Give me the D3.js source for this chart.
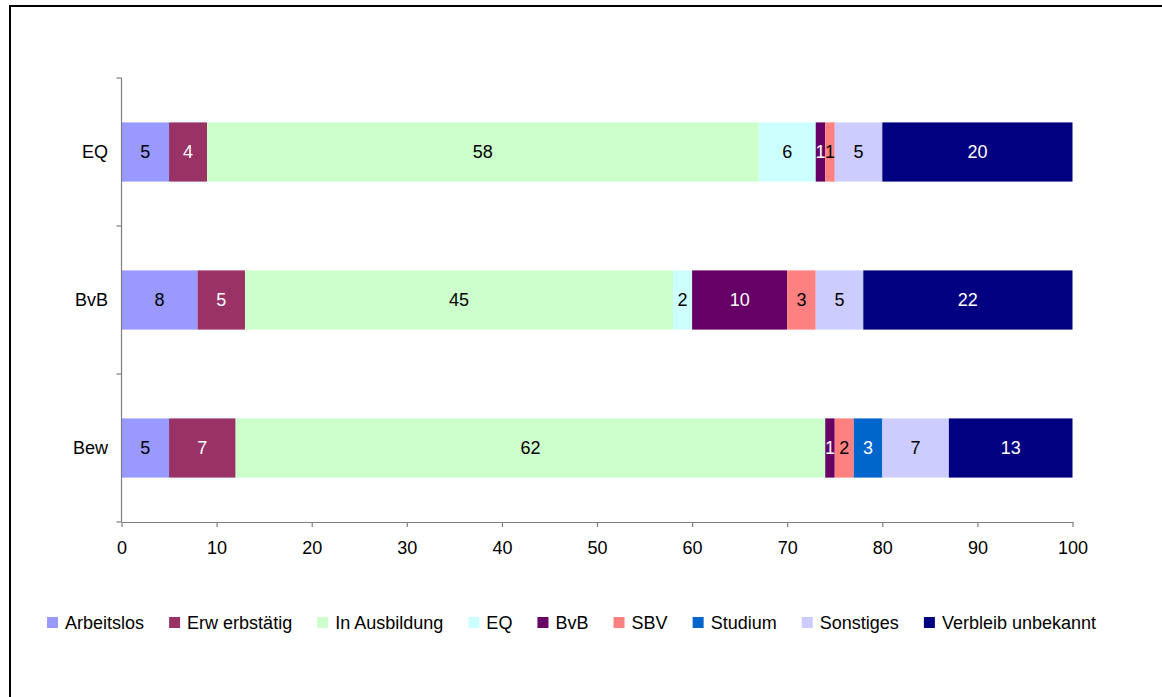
<!DOCTYPE html>
<html>
<head>
<meta charset="utf-8">
<script src="https://cdn.jsdelivr.net/npm/d3@7"></script>
<style>
  html, body { margin: 0; padding: 0; background: #fff; }
  svg { display: block; font-family: "Liberation Sans", Arial, sans-serif; }
</style>
</head>
<body>
<svg id="chart" width="1162" height="697"></svg>
<script>
const categories = ["EQ", "BvB", "Bew"];
const seriesNames = ["Arbeitslos", "Erw erbstätig", "In Ausbildung", "EQ", "BvB", "SBV", "Studium", "Sonstiges", "Verbleib unbekannt"];
const seriesColors = ["#9999FF", "#993366", "#CCFFCC", "#CCFFFF", "#660066", "#FF8080", "#0066CC", "#CCCCFF", "#000080"];
const labelColors = ["#000", "#fff", "#000", "#000", "#fff", "#000", "#fff", "#000", "#fff"];
// values per category, in series order
const valuesEQ  = [5, 4, 58, 6, 1, 1, 0, 5, 20];
const valuesBvB = [8, 5, 45, 2, 10, 3, 0, 5, 22];
const valuesBew = [5, 7, 62, 0, 1, 2, 3, 7, 13];
const xTicks = [0, 10, 20, 30, 40, 50, 60, 70, 80, 90, 100];

const valuesByCat = { EQ: valuesEQ, BvB: valuesBvB, Bew: valuesBew };
const FS = 18;

const svg = d3.select("#chart");

// outer frame (only top and left visible)
svg.append("rect").attr("x", 10).attr("y", 6).attr("width", 1200).attr("height", 720)
  .attr("fill", "none").attr("stroke", "#000").attr("stroke-width", 2);

const x = d3.scaleLinear().domain([0, 100]).range([121.5, 1072.5]);
const y = d3.scaleBand().domain(categories).range([78, 522]).paddingInner(0.6).paddingOuter(0.3);

const rows = categories.map(c => {
  let acc = 0;
  return valuesByCat[c].map((v, i) => {
    const d = { cat: c, i, v, x0: acc, x1: acc + v };
    acc += v;
    return d;
  });
});

const barG = svg.append("g");
rows.forEach(row => {
  const g = barG.append("g");
  g.selectAll("rect").data(row.filter(d => d.v > 0)).join("rect")
    .attr("x", d => x(d.x0))
    .attr("y", d => y(d.cat))
    .attr("width", d => x(d.x1) - x(d.x0))
    .attr("height", y.bandwidth())
    .attr("fill", d => seriesColors[d.i]);
  g.selectAll("text").data(row.filter(d => d.v > 0)).join("text")
    .attr("x", d => (x(d.x0) + x(d.x1)) / 2)
    .attr("y", d => y(d.cat) + y.bandwidth() / 2)
    .attr("dy", "0.36em")
    .attr("text-anchor", "middle")
    .attr("font-size", FS)
    .attr("fill", d => labelColors[d.i])
    .text(d => d.v);
});

const axisColor = "#7f7f7f";

// Y axis
const yAxisG = svg.append("g");
yAxisG.append("line").attr("x1", x(0)).attr("x2", x(0)).attr("y1", 78).attr("y2", 522)
  .attr("stroke", axisColor).attr("stroke-width", 1.2);
const yBounds = categories.map(c => y(c) - y.step() * y.paddingInner() / 2).concat([522]);
yAxisG.selectAll("line.tick").data(yBounds).join("line").attr("class", "tick")
  .attr("x1", x(0) - 5).attr("x2", x(0)).attr("y1", d => d).attr("y2", d => d)
  .attr("stroke", axisColor).attr("stroke-width", 1.2);
yAxisG.selectAll("text").data(categories).join("text")
  .attr("x", 108).attr("y", d => y(d) + y.bandwidth() / 2).attr("dy", "0.36em")
  .attr("text-anchor", "end").attr("font-size", FS).attr("fill", "#000").text(d => d);

// X axis
const xAxis = d3.axisBottom(x).tickValues(xTicks).tickSize(5).tickSizeOuter(0).tickFormat(d3.format("d"));
const xAxisG = svg.append("g").attr("transform", "translate(0,522)").call(xAxis);
xAxisG.select(".domain").attr("stroke", axisColor).attr("stroke-width", 1.2);
xAxisG.selectAll(".tick line").attr("stroke", axisColor).attr("stroke-width", 1.2);
xAxisG.selectAll(".tick text").attr("font-size", FS).attr("fill", "#000").attr("y", 19)
  .attr("font-family", "'Liberation Sans', Arial, sans-serif");

// Legend
const legendLeft = 47, legendRight = 1096, sq = 11, sqGap = 7;
const legend = svg.append("g").attr("transform", `translate(${legendLeft},617)`);
const items = seriesNames.map((name, i) => {
  const g = legend.append("g");
  g.append("rect").attr("width", sq).attr("height", sq).attr("fill", seriesColors[i]);
  const t = g.append("text").attr("x", sq + sqGap).attr("y", sq / 2).attr("dy", "0.36em")
    .attr("font-size", FS).attr("fill", "#000").text(name);
  return { g, w: sq + sqGap + t.node().getComputedTextLength() };
});
const totalW = d3.sum(items, d => d.w);
const gap = (legendRight - legendLeft - totalW) / (items.length - 1);
let lx = 0;
items.forEach(it => {
  it.g.attr("transform", `translate(${lx},0)`);
  lx += it.w + gap;
});
</script>
</body>
</html>
